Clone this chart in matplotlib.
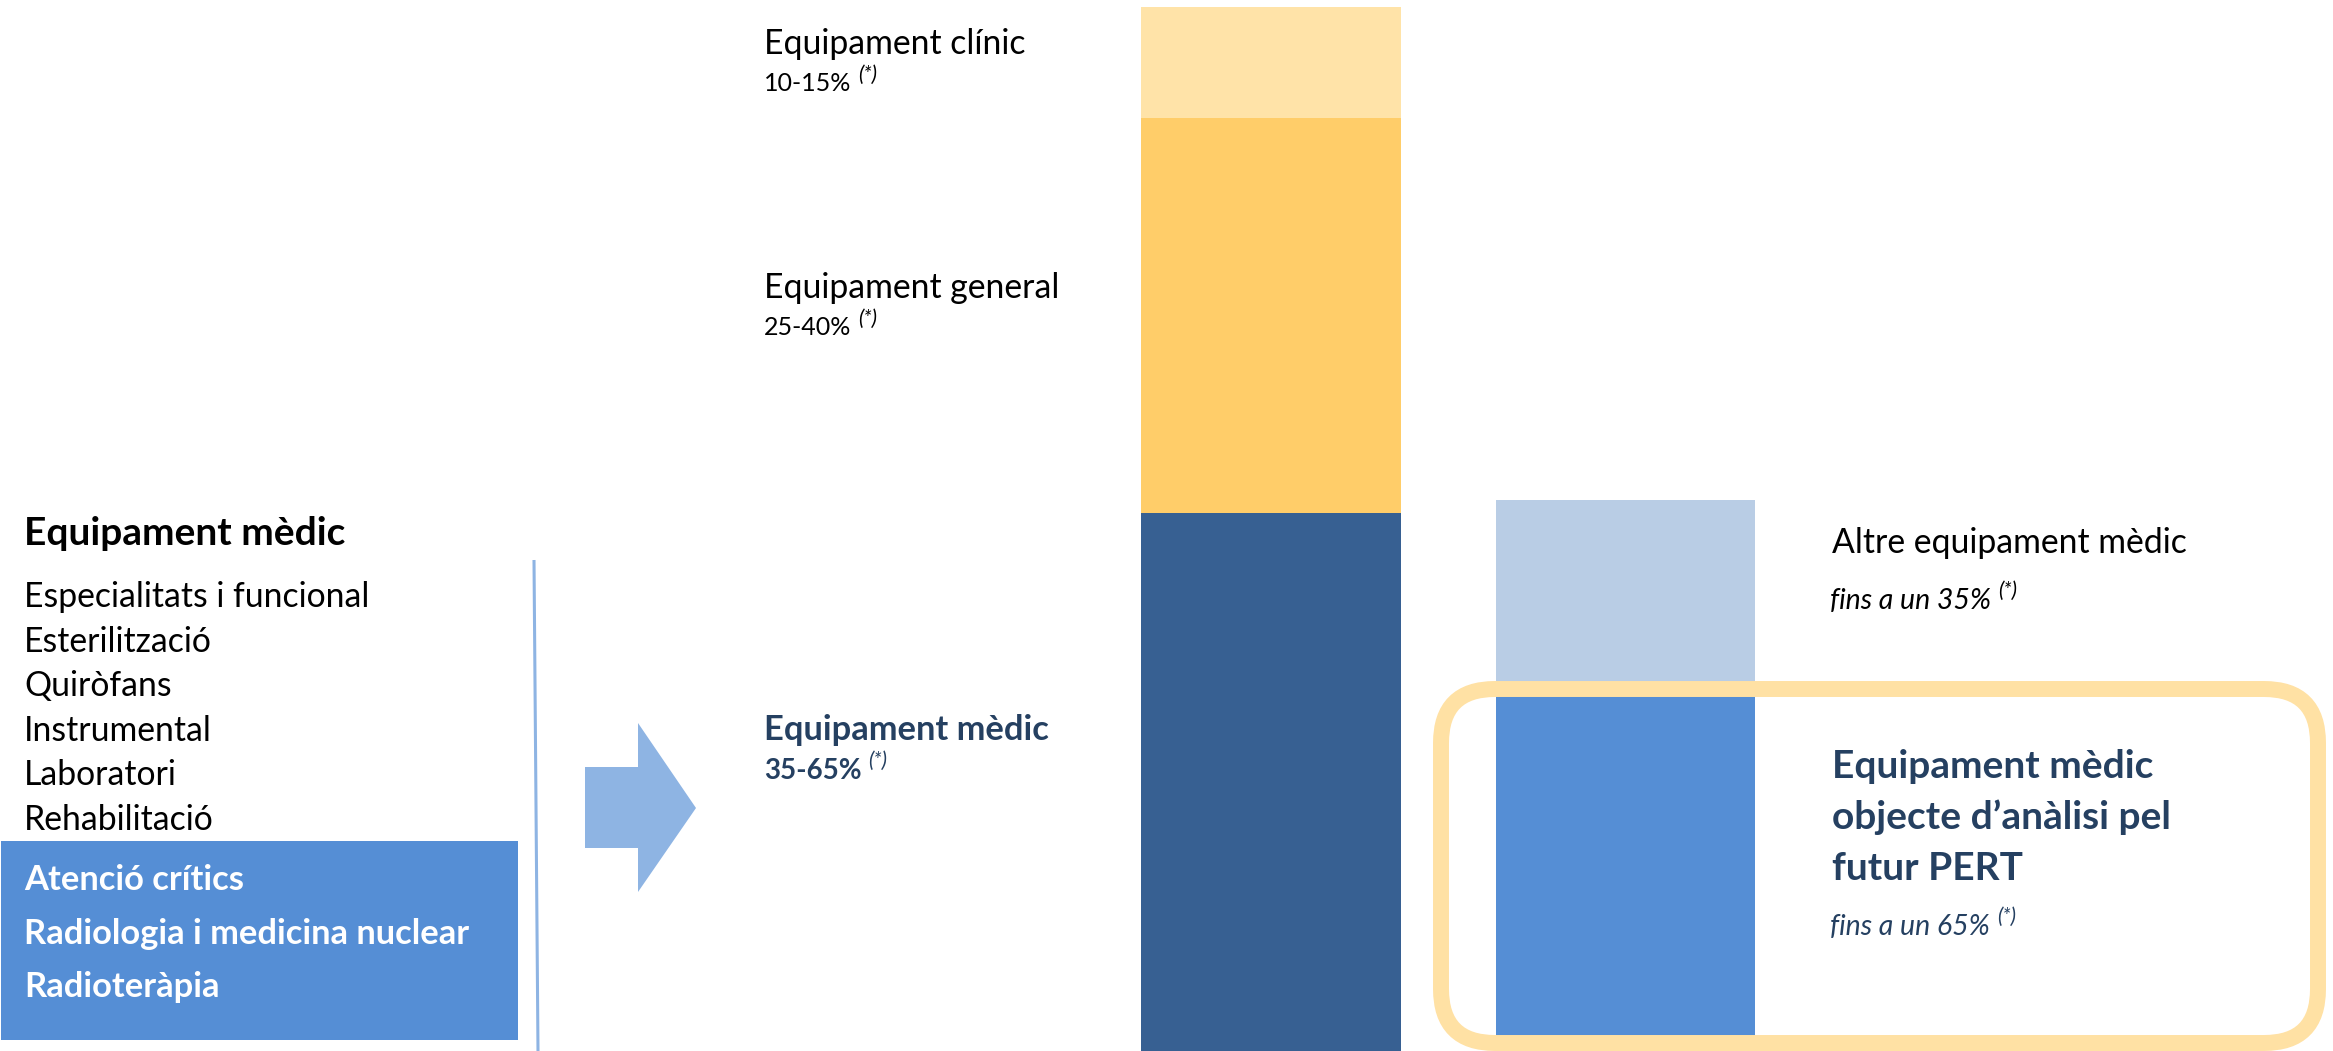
import matplotlib
matplotlib.use("Agg")
import matplotlib.pyplot as plt
from matplotlib.patches import Rectangle, FancyBboxPatch, Polygon
import numpy as np

# ---------------- data ----------------
main_categories = ["Equipament mèdic", "Equipament general", "Equipament clínic"]  # bottom -> top
main_values = [51.5, 37.9, 10.6]
main_ranges = ["35-65%", "25-40%", "10-15%"]

split_labels = ["Equipament mèdic\nobjecte d’anàlisi pel\nfutur PERT", "Altre equipament mèdic"]  # bottom -> top
split_shares = [65, 35]
split_texts = ["fins a un 65%", "fins a un 35%"]

list_title = "Equipament mèdic"
list_items = ["Especialitats i funcional", "Esterilització", "Quiròfans",
              "Instrumental", "Laboratori", "Rehabilitació"]
highlight_items = ["Atenció crítics", "Radiologia i medicina nuclear", "Radioteràpia"]
note_mark = "(*)"

# ---------------- styles ----------------
main_colors = ["#376092", "#FFCD69", "#FFE3A8"]
split_colors = ["#558ED5", "#B9CDE5"]
arrow_color = "#8EB4E3"
box_color = "#558ED5"
frame_color = "#FFE1A4"
dark = "#254061"
FONT = ["Lato", "DejaVu Sans"]

W, H = 2333, 1051
fig = plt.figure(figsize=(W / 100, H / 100), dpi=100)
fig.patch.set_facecolor("white")

# bar axes (y in percent)
axb = fig.add_axes([0, 0, 1, 1])
axb.set_xlim(0, W)
axb.set_ylim(0, 100.67)
axb.axis("off")

main_bottoms = np.concatenate([[0], np.cumsum(main_values)[:-1]])
axb.bar([1271] * len(main_values), main_values, width=260, bottom=main_bottoms,
        color=main_colors, linewidth=0)

medic = main_values[0]
split_heights = [medic * s / 100 for s in split_shares]
split_bottoms = 1.3 + np.concatenate([[0], np.cumsum(split_heights)[:-1]])
axb.bar([1625] * len(split_heights), split_heights, width=259, bottom=split_bottoms,
        color=split_colors, linewidth=0)

# overlay axes in pixel coordinates
ax = fig.add_axes([0, 0, 1, 1])
ax.set_xlim(0, W)
ax.set_ylim(H, 0)
ax.axis("off")
ax.patch.set_alpha(0)


def label(x, y, s, size, weight="normal", style="normal", color="black", sup=False,
          supsize=15, supdx=5, supdy=5):
    t = ax.text(x, y, s, fontsize=size, fontweight=weight, fontstyle=style, color=color,
                va="baseline", ha="left", family=FONT)
    if sup:
        ax.annotate(note_mark, xy=(1, 1), xycoords=t, xytext=(supdx, supdy),
                    textcoords="offset points", va="top", ha="left",
                    fontsize=supsize, fontstyle="italic", color=color, family=FONT)
    return t


REG = 24.3
# left list
label(24, 545, list_title, 28, weight="bold")
for i, item in enumerate(list_items):
    label(24, 607 + i * 44.6, item, REG)

ax.add_patch(Rectangle((1, 841), 517, 199, facecolor=box_color, edgecolor="none"))
for i, item in enumerate(highlight_items):
    label(24, 890 + i * 53.5, item, 24.8, weight="bold", color="white")

# vertical separator
ax.plot([534, 538], [560, 1051], color=arrow_color, lw=2.2, solid_capstyle="butt")

# arrow
ax.add_patch(Polygon([(585, 767), (638, 767), (638, 723), (696, 808),
                      (638, 892), (638, 848), (585, 848)],
                     closed=True, facecolor=arrow_color, edgecolor="none"))

# middle labels (next to main bar)
label(764, 54, main_categories[2], REG)
label(764, 91, main_ranges[2], 18, sup=True)
label(764, 298, main_categories[1], REG)
label(764, 335, main_ranges[1], 18, sup=True)
label(764, 740, main_categories[0], 24.8, weight="bold", color=dark)
label(764, 779, main_ranges[0], 20, weight="bold", color=dark, sup=True)

# right labels
label(1832, 553, split_labels[1], REG)
label(1830, 609, split_texts[1], 20.5, style="italic", sup=True)

for i, line in enumerate(split_labels[0].split("\n")):
    label(1832, 778 + i * 51, line, 28, weight="bold", color=dark)
label(1830, 935, split_texts[0], 20.5, style="italic", color=dark, sup=True)

# highlight frame
ax.add_patch(FancyBboxPatch((1441, 689), 877, 354,
                            boxstyle="round,pad=0,rounding_size=54",
                            facecolor="none", edgecolor=frame_color, lw=11.5))

fig.savefig("out.png", dpi=100, facecolor="white")
